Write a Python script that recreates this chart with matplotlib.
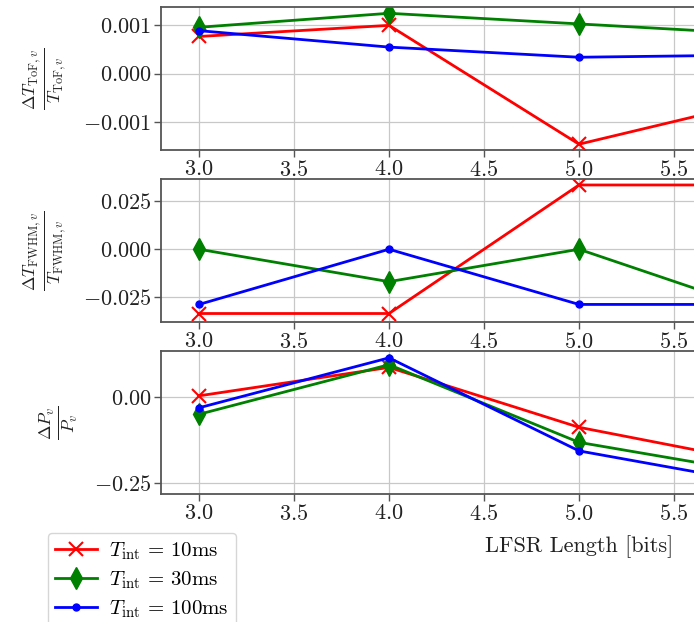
import matplotlib
matplotlib.use("Agg")
import matplotlib.pyplot as plt
from matplotlib.ticker import FuncFormatter

plt.rcParams['font.family'] = ['cmr10', 'DejaVu Serif']
plt.rcParams['mathtext.fontset'] = 'cm'
plt.rcParams['axes.formatter.use_mathtext'] = True

# ---------------- data ----------------
lfsr_len = [3, 4, 5, 6]
labels = [r'$T_{\mathrm{int}}$ = 10ms', r'$T_{\mathrm{int}}$ = 30ms', r'$T_{\mathrm{int}}$ = 100ms']

tof_10 = [0.00077, 0.00100, -0.00146, -0.00052]
tof_30 = [0.00096, 0.00125, 0.00103, 0.00081]
tof_100 = [0.00089, 0.00055, 0.00034, 0.00039]

fwhm_10 = [-0.0333, -0.0333, 0.0333, 0.0333]
fwhm_30 = [0.0, -0.0168, 0.0, -0.0333]
fwhm_100 = [-0.0286, 0.0, -0.0286, -0.0286]

pow_10 = [0.004, 0.087, -0.088, -0.196]
pow_30 = [-0.050, 0.095, -0.132, -0.227]
pow_100 = [-0.031, 0.115, -0.157, -0.257]

xticks = [3.0, 3.5, 4.0, 4.5, 5.0, 5.5, 6.0, 6.5, 7.0]
tof_ticks = [-0.001, 0.0, 0.001]
fwhm_ticks = [-0.025, 0.0, 0.025]
pow_ticks = [-0.25, 0.0]

# ---------------- figure ----------------
W, H = 694, 622
fig = plt.figure(figsize=(W / 100, H / 100), dpi=100)

def px_axes(top, bottom, left=161, right=997):
    return fig.add_axes([left / W, 1 - bottom / H, (right - left) / W, (bottom - top) / H])

ax1 = px_axes(7, 150)
ax2 = px_axes(179, 322)
ax3 = px_axes(351, 494)

colors = ['red', 'green', 'blue']
markers = ['x', 'd', 'o']
msizes = [10, 11, 5]

panels = [
    (ax1, [tof_10, tof_30, tof_100], tof_ticks, (-0.00158, 0.00138), 3,
     r'$\frac{\Delta T_{\mathrm{ToF},v}}{T_{\mathrm{ToF},v}}$'),
    (ax2, [fwhm_10, fwhm_30, fwhm_100], fwhm_ticks, (-0.0377, 0.0364), 3,
     r'$\frac{\Delta T_{\mathrm{FWHM},v}}{T_{\mathrm{FWHM},v}}$'),
    (ax3, [pow_10, pow_30, pow_100], pow_ticks, (-0.283, 0.135), 2,
     r'$\frac{\Delta P_v}{P_v}$'),
]

handles = []
for ax, series, yt, ylim, dec, ylab in panels:
    hs = []
    for s, c, m, ms, lab in zip(series, colors, markers, msizes, labels):
        h, = ax.plot(lfsr_len, s, color=c, marker=m, markersize=ms,
                     linewidth=2, markeredgewidth=1.5 if m == 'x' else 1, label=lab)
        hs.append(h)
    handles = hs if not handles else handles
    ax.set_xlim(2.8, 7.2)
    ax.set_ylim(*ylim)
    ax.set_xticks(xticks)
    ax.set_yticks(yt)
    ax.xaxis.set_major_formatter(FuncFormatter(lambda v, p: f'${v:.1f}$'))
    ax.yaxis.set_major_formatter(FuncFormatter(lambda v, p, d=dec: f'${v:.{d}f}$'))
    ax.grid(True, color='#c8c8c8', linewidth=0.9)
    ax.set_axisbelow(True)
    for sp in ax.spines.values():
        sp.set_color('#555555')
        sp.set_linewidth(1.3)
    ax.tick_params(axis='both', labelsize=16, length=5, width=1, color='#555555',
                   labelcolor='#222222', pad=2)
    ax.set_ylabel(ylab, fontsize=18, color='#222222', labelpad=10)

ax3.set_xlabel('LFSR Length [bits]', fontsize=16, labelpad=8, color='#222222')

fig.legend(handles=handles, loc='upper left', bbox_to_anchor=(48 / W, 1 - 533 / H),
           borderaxespad=0, fontsize=15, handlelength=2.0, handletextpad=0.6,
           labelspacing=0.35, borderpad=0.35,
           frameon=True, edgecolor='#cccccc', fancybox=True)

fig.savefig('out.png', dpi=100)
